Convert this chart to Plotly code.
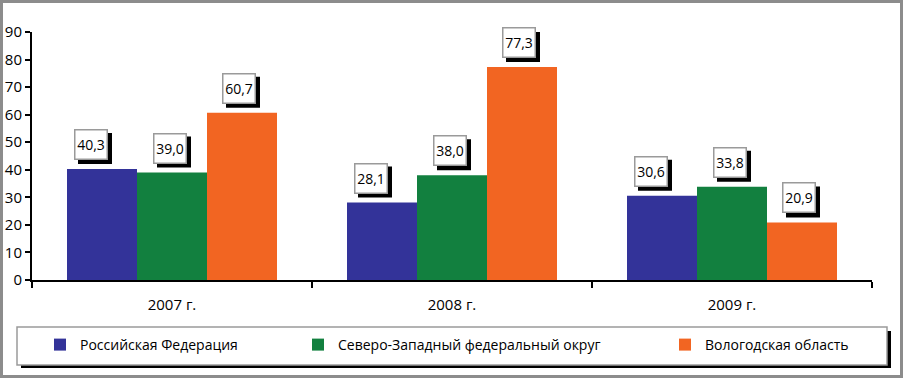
import plotly.graph_objects as go

categories = ["2007 г.", "2008 г.", "2009 г."]
series_names = ["Российская Федерация", "Северо-Западный федеральный округ", "Вологодская область"]
rf_values = [40.3, 28.1, 30.6]
szfo_values = [39.0, 38.0, 33.8]
vologda_values = [60.7, 77.3, 20.9]
y_ticks = [0, 10, 20, 30, 40, 50, 60, 70, 80, 90]

colors = ["#333399", "#12803F", "#F26522"]
label_xshift = [-11, -2, -3]
all_values = [rf_values, szfo_values, vologda_values]

W, H = 903, 378
L, R, T, B = 32, 31, 32, 98
pw, ph = W - L - R, H - T - B

def px(x):
    return (x - L) / pw

def py(y):
    return (H - B - y) / ph

FONT = "Open Sans"

fig = go.Figure()
legend_ids = ["legend", "legend2", "legend3"]
for name, vals, col, lg in zip(series_names, all_values, colors, legend_ids):
    fig.add_trace(go.Bar(x=categories, y=vals, name=name, marker=dict(color=col, line=dict(width=0)),
                         legend=lg, offsetgroup=name, hoverinfo="skip"))

annotations = []
shapes = [
    # outer frame
    dict(type="rect", xref="paper", yref="paper", x0=px(1.5), x1=px(901.5), y0=py(376.5), y1=py(1.5),
         line=dict(color="#8c8c8c", width=3), fillcolor="rgba(0,0,0,0)", layer="below"),
    # legend shadow
    dict(type="rect", xref="paper", yref="paper", x0=px(21), x1=px(891), y0=py(368), y1=py(331),
         line=dict(width=0), fillcolor="black", layer="below"),
    # legend box
    dict(type="rect", xref="paper", yref="paper", x0=px(17), x1=px(887), y0=py(365), y1=py(327),
         line=dict(color="#9a9a9a", width=1.5), fillcolor="white", layer="below"),
]

n = len(series_names)
group_frac = 0.75
bw = group_frac / n
box_w, box_h, gap, sh = 34, 31, 9, 4
bpad, bwid = 1, 1.5
for si, vals in enumerate(all_values):
    for ci, v in enumerate(vals):
        xpos = ci - group_frac / 2 + bw * (si + 0.5)
        txt = f"{v:.1f}".replace(".", ",")
        xs = label_xshift[si]
        # shadow
        shapes.append(dict(type="rect", xref="x", yref="y", xsizemode="pixel", ysizemode="pixel",
                           xanchor=xpos, yanchor=v,
                           x0=xs - box_w / 2 + sh, x1=xs + box_w / 2 + sh, y0=gap - sh, y1=gap - sh + box_h,
                           fillcolor="black", line=dict(width=0), layer="above"))
        annotations.append(dict(x=xpos, y=v, xref="x", yref="y", text=txt, showarrow=False,
                                yanchor="bottom", yshift=gap, xshift=xs,
                                width=box_w - 2 * (bpad + bwid), height=box_h - 2 * (bpad + bwid),
                                font=dict(family=FONT, size=14, color="black"),
                                bgcolor="white", bordercolor="#9a9a9a", borderwidth=bwid, borderpad=bpad))

leg_common = dict(orientation="h", yanchor="middle", y=py(345), xanchor="left",
                  bgcolor="rgba(0,0,0,0)", borderwidth=0,
                  font=dict(family=FONT, size=14, color="black"))
text_left = [80, 338, 705]

fig.update_layout(
    width=W, height=H,
    margin=dict(l=L, r=R, t=T, b=B, autoexpand=False),
    paper_bgcolor="white", plot_bgcolor="white",
    barmode="group", bargap=0.25, bargroupgap=0,
    font=dict(family=FONT, size=14, color="black"),
    showlegend=True,
    legend=dict(x=px(text_left[0] - 40), **leg_common),
    legend2=dict(x=px(text_left[1] - 40), **leg_common),
    legend3=dict(x=px(text_left[2] - 40), **leg_common),
    annotations=annotations,
    shapes=shapes,
    xaxis=dict(type="category", showline=True, linecolor="black", linewidth=2,
               ticks="outside", tickson="boundaries", ticklen=6, tickwidth=1.5, tickcolor="black",
               ticklabelstandoff=10,
               tickfont=dict(family=FONT, size=15, color="black"), showgrid=False),
    yaxis=dict(range=[0, 90], tickvals=y_ticks, showline=True, linecolor="black", linewidth=2,
               ticks="outside", ticklen=5, tickwidth=1.5, tickcolor="black", showgrid=False,
               zeroline=False, tickfont=dict(family=FONT, size=15, color="black")),
)

fig.write_html("out.html", config={"displayModeBar": False},
               post_script="document.body.style.margin='0';document.body.style.overflow='hidden';")
